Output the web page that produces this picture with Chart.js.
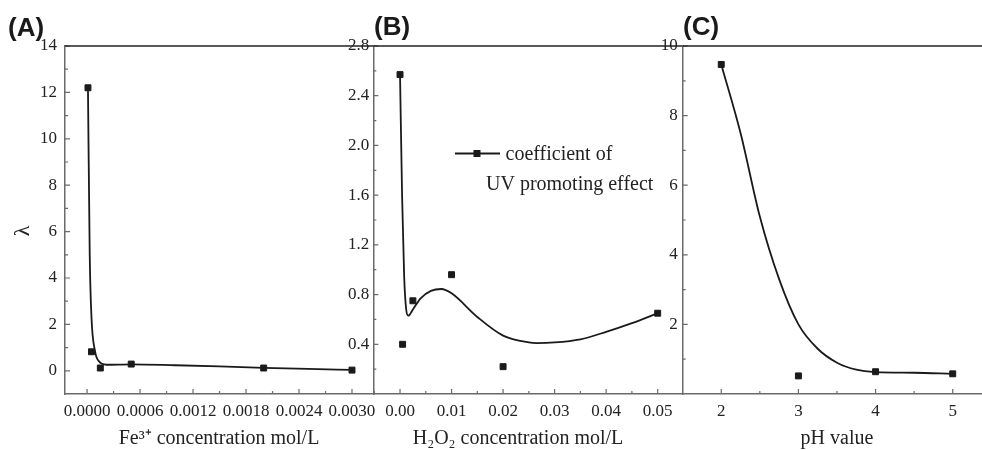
<!DOCTYPE html>
<html>
<head>
<meta charset="utf-8">
<script src="https://cdn.jsdelivr.net/npm/chart.js@4.4.1/dist/chart.umd.min.js"></script>
<style>
  html, body { margin: 0; padding: 0; background: #fff; overflow: hidden; }
  #wrap { position: relative; width: 982px; height: 450px; overflow: hidden; }
  canvas { position: absolute; top: 0; }
  .panel { position: absolute; font: bold 26px "Liberation Sans", Arial, sans-serif; color: #1a1a1a; line-height: 1; }
</style>
</head>
<body>
<div id="wrap">
  <canvas id="chartA" width="400" height="450" style="left:0px"></canvas>
  <canvas id="chartB" width="410" height="450" style="left:300px"></canvas>
  <canvas id="chartC" width="420" height="450" style="left:600px"></canvas>
  <div class="panel" style="left:8px;top:14px">(A)</div>
  <div class="panel" style="left:374px;top:13px">(B)</div>
  <div class="panel" style="left:683px;top:13px">(C)</div>
</div>
<script>
// (A) Fe3+ 농도
const feConc = [0.00001, 0.00005, 0.00015, 0.0005, 0.002, 0.003];
const feLambda = [12.2, 0.82, 0.12, 0.29, 0.12, 0.03];
const feFitConc = [0.00001, 0.00003, 0.00005, 0.00009, 0.00013, 0.00022, 0.0005, 0.001, 0.0015, 0.002, 0.0025, 0.003];
const feFitLambda = [12.2, 5.0, 2.3, 0.85, 0.43, 0.26, 0.28, 0.24, 0.19, 0.13, 0.08, 0.04];
const feXTicks = [0, 0.0006, 0.0012, 0.0018, 0.0024, 0.0030];
const feYTicks = [0, 2, 4, 6, 8, 10, 12, 14];

// (B) H2O2 농도
const h2o2Conc = [0, 0.0005, 0.0025, 0.01, 0.02, 0.05];
const h2o2Lambda = [2.57, 0.40, 0.75, 0.96, 0.22, 0.65];
const h2o2FitConc = [0, 0.0004, 0.0008, 0.0012, 0.0016, 0.0025, 0.004, 0.006, 0.008, 0.01, 0.015, 0.02, 0.025, 0.0265, 0.03, 0.035, 0.04, 0.045, 0.05];
const h2o2FitLambda = [2.57, 1.6, 0.95, 0.68, 0.63, 0.68, 0.77, 0.83, 0.845, 0.81, 0.62, 0.47, 0.415, 0.41, 0.415, 0.44, 0.5, 0.57, 0.65];
const h2o2XTicks = [0, 0.01, 0.02, 0.03, 0.04, 0.05];
const h2o2YTicks = [0.4, 0.8, 1.2, 1.6, 2.0, 2.4, 2.8];

// (C) pH
const phValues = [2, 3, 4, 5];
const phLambda = [9.47, 0.52, 0.64, 0.58];
const phFitValues = [2, 2.25, 2.5, 2.75, 3, 3.25, 3.5, 3.75, 4, 4.5, 5];
const phFitLambda = [9.47, 7.5, 5.1, 3.3, 2.0, 1.3, 0.9, 0.7, 0.63, 0.61, 0.58];
const phXTicks = [2, 3, 4, 5];
const phYTicks = [2, 4, 6, 8, 10];

const legendText = ["coefficient of", "UV promoting effect"];

const serif = '"Liberation Serif", "Times New Roman", serif';
const axisColor = '#6b6b6b';
const inkColor = '#1a1a1a';

Chart.defaults.font.family = serif;
Chart.defaults.color = '#222';

function toPoints(xs, ys) {
	return xs.map((x, i) => ({ x: x, y: ys[i] }));
}

function minorValues(major, min, max) {
	const step = major[1] - major[0];
	const out = [];
	major.forEach(v => out.push(v - step / 2));
	out.push(major[major.length - 1] + step / 2);
	return out.filter(v => v > min + 1e-12 && v < max - 1e-12);
}

// Origin 스타일 안쪽 눈금 + 위쪽 테두리
const originAxes = {
	id: 'originAxes',
	afterDraw(chart) {
		const { ctx, chartArea } = chart;
		const xs = chart.scales.x, ys = chart.scales.y;
		ctx.save();
		ctx.strokeStyle = axisColor;
		ctx.lineWidth = 1.2;
		ctx.beginPath();
		const xMajor = xs.ticks.map(t => t.value);
		const yMajor = ys.ticks.map(t => t.value);
		xMajor.forEach(v => {
			const p = xs.getPixelForValue(v);
			ctx.moveTo(p, chartArea.bottom); ctx.lineTo(p, chartArea.bottom - 5);
		});
		minorValues(xMajor, xs.min, xs.max).forEach(v => {
			const p = xs.getPixelForValue(v);
			ctx.moveTo(p, chartArea.bottom); ctx.lineTo(p, chartArea.bottom - 3);
		});
		yMajor.forEach(v => {
			const p = ys.getPixelForValue(v);
			ctx.moveTo(chartArea.left, p); ctx.lineTo(chartArea.left + 5, p);
		});
		minorValues(yMajor, ys.min, ys.max).forEach(v => {
			const p = ys.getPixelForValue(v);
			ctx.moveTo(chartArea.left, p); ctx.lineTo(chartArea.left + 3, p);
		});
		ctx.stroke();
		ctx.strokeStyle = '#222';
		ctx.lineWidth = 1.4;
		ctx.beginPath();
		ctx.moveTo(chartArea.left, chartArea.top);
		ctx.lineTo(chartArea.right + 1, chartArea.top);
		ctx.stroke();
		ctx.restore();
	}
};

// (B) 범례
const legendB = {
	id: 'legendB',
	afterDraw(chart) {
		if (chart.canvas.id !== 'chartB') return;
		const ctx = chart.ctx;
		ctx.save();
		ctx.strokeStyle = inkColor;
		ctx.lineWidth = 1.8;
		ctx.beginPath();
		ctx.moveTo(155, 153.5); ctx.lineTo(200, 153.5);
		ctx.stroke();
		ctx.fillStyle = inkColor;
		ctx.fillRect(173.5, 150, 7, 7);
		ctx.font = '20px ' + serif;
		ctx.fillStyle = '#222';
		ctx.textBaseline = 'alphabetic';
		ctx.fillText(legendText[0], 205.5, 159.5);
		ctx.fillText(legendText[1], 186, 190);
		ctx.restore();
	}
};

function makeChart(id, cfg) {
	const ctx = document.getElementById(id).getContext('2d');
	return new Chart(ctx, {
		type: 'scatter',
		data: {
			datasets: [{
				label: legendText.join(' '),
				data: toPoints(cfg.fitX, cfg.fitY),
				showLine: true,
				borderColor: inkColor,
				borderWidth: 1.8,
				cubicInterpolationMode: 'monotone',
				pointRadius: 0,
				order: 2
			}, {
				label: 'measured',
				data: toPoints(cfg.pointX, cfg.pointY),
				showLine: false,
				pointStyle: 'rect',
				pointRadius: 4.2,
				pointBackgroundColor: inkColor,
				pointBorderColor: inkColor,
				pointBorderWidth: 1,
				clip: false,
				order: 1
			}]
		},
		options: {
			responsive: false,
			animation: false,
			layout: { padding: { left: 0, right: cfg.padRight, top: 46, bottom: 0 } },
			plugins: { legend: { display: false }, tooltip: { enabled: false } },
			scales: {
				x: {
					type: 'linear',
					min: cfg.xMin, max: cfg.xMax,
					grid: { display: false, drawTicks: false },
					border: { display: true, color: axisColor, width: 1.5 },
					afterBuildTicks: s => { s.ticks = cfg.xTicks.map(v => ({ value: v })); },
					afterFit: s => { s.height = 56; },
					ticks: {
						padding: 7,
						maxRotation: 0,
						font: { size: 17 },
						callback: v => cfg.xDigits === 0 ? String(v) : Number(v).toFixed(cfg.xDigits)
					},
					title: {
						display: true,
						text: cfg.xTitle,
						font: { size: 20, lineHeight: 1.0 },
						padding: { top: 0, bottom: 1 }
					}
				},
				y: {
					type: 'linear',
					min: cfg.yMin, max: cfg.yMax,
					grid: { display: false, drawTicks: false },
					border: { display: true, color: axisColor, width: 1.5 },
					afterBuildTicks: s => { s.ticks = cfg.yTicks.map(v => ({ value: v })); },
					afterFit: s => { s.width = cfg.yWidth; },
					ticks: {
						padding: cfg.yPad,
						font: { size: 17 },
						callback: v => cfg.yDigits === 0 ? String(v) : Number(v).toFixed(cfg.yDigits)
					},
					title: {
						display: !!cfg.yTitle,
						text: cfg.yTitle || '',
						font: { size: 22 },
						padding: { top: 10, bottom: 0 }
					}
				}
			}
		},
		plugins: [originAxes, legendB]
	});
}

makeChart('chartA', {
	fitX: feFitConc, fitY: feFitLambda, pointX: feConc, pointY: feLambda,
	xMin: -0.00025, xMax: 0.003238, yMin: -1, yMax: 14,
	xTicks: feXTicks, yTicks: feYTicks, xDigits: 4, yDigits: 0,
	xTitle: 'Fe³⁺ concentration mol/L', yTitle: 'λ    ',
	yWidth: 65, yPad: 8, padRight: 27
});

makeChart('chartB', {
	fitX: h2o2FitConc, fitY: h2o2FitLambda, pointX: h2o2Conc, pointY: h2o2Lambda,
	xMin: -0.00518, xMax: 0.05485, yMin: 0, yMax: 2.8,
	xTicks: h2o2XTicks, yTicks: h2o2YTicks, xDigits: 2, yDigits: 1,
	xTitle: 'H₂O₂ concentration mol/L    ',
	yWidth: 73.33, yPad: 4, padRight: 27.33
});

makeChart('chartC', {
	fitX: phFitValues, fitY: phFitLambda, pointX: phValues, pointY: phLambda,
	xMin: 1.5, xMax: 5.5, yMin: 0, yMax: 10,
	xTicks: phXTicks, yTicks: phYTicks, xDigits: 0, yDigits: 0,
	xTitle: 'pH value',
	yWidth: 82.67, yPad: 5, padRight: 28.7
});
</script>
</body>
</html>
